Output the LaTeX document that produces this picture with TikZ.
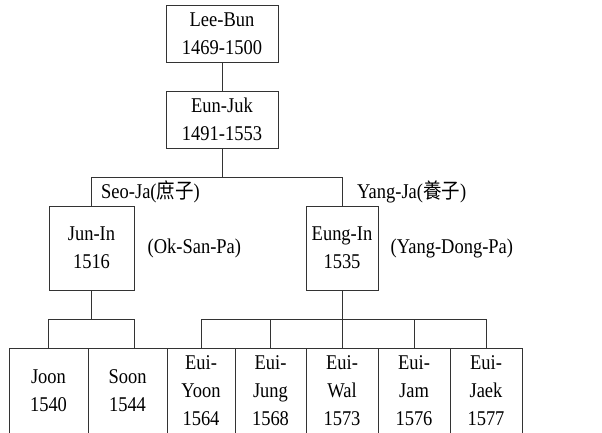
\documentclass[tikz,border=0pt]{standalone}
\usepackage{fontspec}
\setmainfont[FakeStretch=0.88]{Liberation Serif}
\newfontfamily\cjk[FakeStretch=0.88]{Noto Sans CJK TC}
\usetikzlibrary{positioning}

\tikzset{
  person/.style={draw=black!80, line width=1pt, align=center, inner sep=0pt,
    font=\fontsize{21}{28}\selectfont},
  link/.style={draw=black!80, line width=1pt},
  tag/.style={inner sep=0pt, font=\fontsize{21}{24}\selectfont},
}

\begin{document}
\begin{tikzpicture}[x=1pt,y=-1pt]
    \useasboundingbox (0,0) rectangle (602,432);
    \clip (0,0) rectangle (602,432);

    % Define bar heights
    \def\topbar{177} % bar under Eun-Juk
    \def\lowbar{319} % bars above the last row

    % --- first generations ---
    \node[person, minimum width=112, minimum height=57] (leebun) at (222,33.5) {Lee-Bun\\1469-1500};
    \node[person, minimum width=112, minimum height=57] (eunjuk) at (222,119.5) {Eun-Juk\\1491-1553};
    \node[person, minimum width=85, minimum height=84] (junin) at (91.5,248) {Jun-In\\1516};
    \node[person, minimum width=72, minimum height=84] (eungin) at (342,248) {Eung-In\\1535};

    % --- last row (cut at the bottom) ---
    \node[person, minimum width=79, minimum height=86] (joon) at (48.5,391) {Joon\\1540};
    \node[person, minimum width=79, minimum height=86] (soon) at (127.5,391) {Soon\\1544};
    \foreach \name/\x/\w/\txt in {euiyoon/201/68/{Eui-\\Yoon\\1564}, euijung/270.5/71/{Eui-\\Jung\\1568},
        euiwal/342/72/{Eui-\\Wal\\1573}, euijam/414/72/{Eui-\\Jam\\1576}, euijaek/486/72/{Eui-\\Jaek\\1577}} {
        \node[person, minimum width=\w, minimum height=86] (\name) at (\x,391) {\txt};
    }

    % --- labels ---
    \node[tag, anchor=base west] (seoja) at (101,198) {Seo-Ja({\cjk 庶子})};
    \node[tag, anchor=base west] (yangja) at (357,198) {Yang-Ja({\cjk 養子})};
    \node[tag, right=13pt of junin] (oksan) {(Ok-San-Pa)};
    \node[tag, right=12pt of eungin] (yangdong) {(Yang-Dong-Pa)};

    % --- connectors ---
    \coordinate (fork) at (222,\topbar);
    \draw[link] (leebun) -- (eunjuk);
    \draw[link] (eunjuk) -- (fork);
    \draw[link] (junin.north) -- (junin.north |- fork) -- (eungin.north |- fork) -- (eungin.north);

    % Jun-In to his sons
    \coordinate (leftfork) at (junin.south |- 0,\lowbar);
    \draw[link] (junin) -- (leftfork);
    \draw[link] (junin.south west |- joon.north) -- (junin.south west |- leftfork)
        -- (junin.south east |- leftfork) -- (junin.south east |- soon.north);

    % Eung-In to his sons
    \coordinate (rightfork) at (eungin.south |- 0,\lowbar);
    \draw[link] (eungin) -- (rightfork);
    \draw[link] (euiyoon.north) -- (euiyoon.north |- rightfork) -- (euijaek.north |- rightfork) -- (euijaek.north);
    \foreach \name in {euijung,euiwal,euijam} {
        \draw[link] (\name.north) -- (\name.north |- rightfork);
    }

\end{tikzpicture}
\end{document}
